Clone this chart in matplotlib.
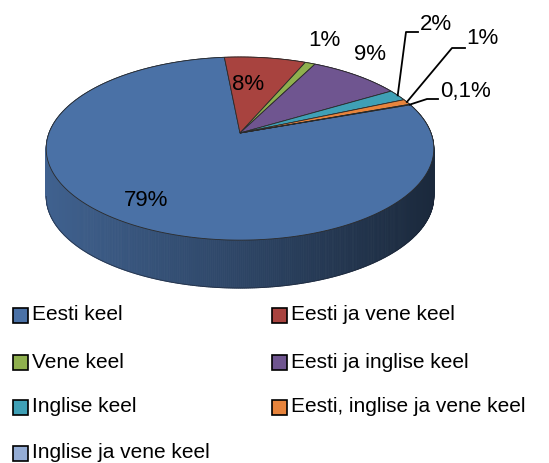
import numpy as np
import matplotlib
matplotlib.use("Agg")
import matplotlib.pyplot as plt
from matplotlib.patches import Polygon, Rectangle

plt.rcParams['font.family'] = ['Liberation Sans', 'DejaVu Sans']

# andmed
labels = ['Eesti keel', 'Eesti ja vene keel', 'Vene keel', 'Eesti ja inglise keel',
          'Inglise keel', 'Eesti, inglise ja vene keel', 'Inglise ja vene keel']
values = [79, 8, 1, 9, 2, 1, 0.1]
pct_text = ['79%', '8%', '1%', '9%', '2%', '1%', '0,1%']
colors = ['#4a71a6', '#a8433f', '#8fb04e', '#6f5590', '#3fa0b6', '#e8843c', '#94acd4']

# 3D pirukas: perspektiivi parameetrid (pikslites)
W, H = 549, 463
cx, cy = 240, 133      # tipp
S, E, P = 191, 0.4655, 0.17
DEPTH = 48
start = 19.6           # esimese sektori algus, kraadides, kellaosuti suunas


def proj(theta, r=1.0):
    t = np.radians(theta)
    u = r * np.cos(t)
    v = r * np.sin(t)
    den = 1 + P * v
    return cx + S * u / den, cy - S * E * v / den


def shade(hex_color, f):
    rgb = np.array(matplotlib.colors.to_rgb(hex_color))
    return tuple(np.clip(rgb * f, 0, 1))


vals = np.array(values, dtype=float)
cum = np.concatenate([[0], np.cumsum(vals / vals.sum())])
bounds = start - 360 * cum

fig = plt.figure(figsize=(W / 100, H / 100), dpi=100)
ax = fig.add_axes([0, 0, 1, 1])
ax.set_xlim(0, W)
ax.set_ylim(H, 0)
ax.axis('off')

# külgsein
for i in range(len(vals)):
    a0, a1 = bounds[i], bounds[i + 1]
    n = max(2, int(abs(a0 - a1) * 2))
    th = np.linspace(a0, a1, n + 1)
    for k in range(n):
        x0, y0 = proj(th[k])
        x1, y1 = proj(th[k + 1])
        xm = (x0 + x1) / 2
        f = 0.86 - 0.50 * (xm - 47) / (435 - 47)
        c = shade(colors[i], f)
        ax.add_patch(Polygon([(x0, y0), (x1, y1), (x1, y1 + DEPTH), (x0, y0 + DEPTH)],
                             closed=True, facecolor=c, edgecolor=c, lw=0.6, zorder=1))

# seina alumine serv
th = np.linspace(-9.8, -170.2, 200)
bx, by = proj(th)
ax.plot(bx, by + DEPTH, color='#1a2233', lw=0.7, alpha=0.6, zorder=2)

# pealmine pind
for i in range(len(vals)):
    th = np.linspace(bounds[i], bounds[i + 1], max(3, int(abs(bounds[i] - bounds[i + 1]) * 2)))
    px, py = proj(th)
    pts = [(cx, cy)] + list(zip(px, py))
    ax.add_patch(Polygon(pts, closed=True, facecolor=colors[i], edgecolor='#2a2a2a',
                         lw=0.6, zorder=3))

# sildid
label_pos = [(146, 200), (248, 84), (324, 40), (370, 54)]
for i, (x, y) in enumerate(label_pos):
    ax.text(x, y, pct_text[i], fontsize=16, ha='center', va='center', zorder=5)

leader_elbow = {4: [(406, 32), (418, 32)], 5: [(452, 48), (465, 48)], 6: [(427, 99), (438, 99)]}
leader_text = {4: (420, 24), 5: (466, 39), 6: (440, 92)}
for i in (4, 5, 6):
    mid = (bounds[i] + bounds[i + 1]) / 2
    sx, sy = proj(mid)
    pts = [(sx, sy)] + leader_elbow[i]
    ax.plot([p[0] for p in pts], [p[1] for p in pts], color='black', lw=1.3, zorder=4)
    ax.text(*leader_text[i], pct_text[i], fontsize=16, ha='left', va='center', zorder=5)

# legend
col_x = [13, 272]
row_y = [315, 362, 407, 453]
for i, lab in enumerate(labels):
    r, c = divmod(i, 2)
    x, y = col_x[c], row_y[r]
    ax.add_patch(Rectangle((x, y - 7.5), 15, 15, facecolor=colors[i], edgecolor='black', lw=1.2))
    ax.text(x + 19, y, lab, fontsize=15, ha='left', va='center')

fig.savefig('out.png', dpi=100)
